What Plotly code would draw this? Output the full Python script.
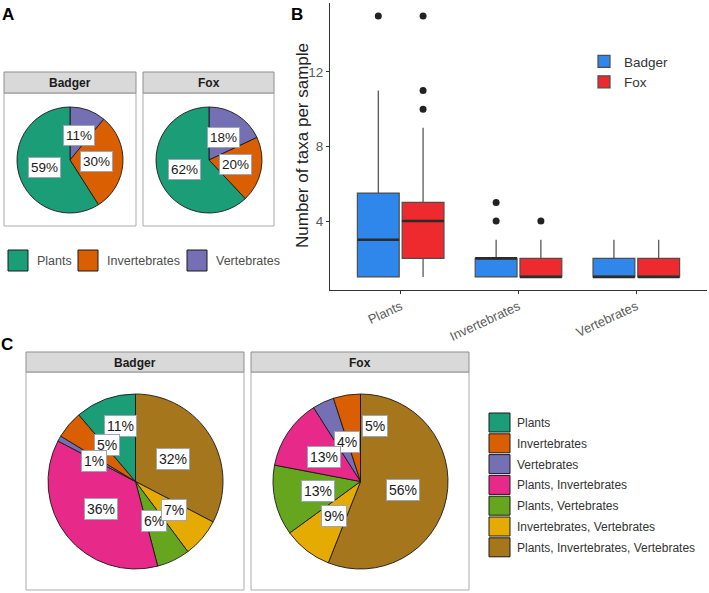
import math
import plotly.graph_objects as go

W, H = 709, 593
FONT = "Liberation Sans, Arial, sans-serif"

# ---------------- data ----------------
groups_A = ["Plants", "Invertebrates", "Vertebrates"]
badger_A = [59, 30, 11]
fox_A = [62, 20, 18]

groups_C = ["Plants", "Invertebrates", "Vertebrates", "Plants, Invertebrates",
            "Plants, Vertebrates", "Invertebrates, Vertebrates",
            "Plants, Invertebrates, Vertebrates"]
badger_C = [11, 5, 1, 36, 6, 7, 32]
fox_C = [0, 5, 4, 13, 13, 9, 56]

box_categories = ["Plants", "Invertebrates", "Vertebrates"]
badger_q1 = [1, 1, 1]
badger_median = [3, 2, 1]
badger_q3 = [5.5, 2, 2]
badger_low = [1, 1, 1]
badger_high = [11, 3, 3]
badger_outliers = [[15], [4, 5], []]
fox_q1 = [2, 1, 1]
fox_median = [4, 1, 1]
fox_q3 = [5, 2, 2]
fox_low = [1, 1, 1]
fox_high = [9, 3, 3]
fox_outliers = [[10, 11, 15], [4], []]
y_ticks = [4, 8, 12]

# ---------------- style ----------------
dark2 = ["#1B9E77", "#D95F02", "#7570B3", "#E7298A", "#66A61E", "#E6AB02", "#A6761D"]
col_badger = "#2F86EB"
col_fox = "#EE2A2E"


def X(x):
    return x / W


def Y(y):
    return 1 - y / H


fig = go.Figure()
shapes = []
annotations = []


def ann(x, y, text, size, color, xanchor="center", **kw):
    annotations.append(dict(x=X(x), y=Y(y), xref="paper", yref="paper", text=text,
                            showarrow=False, xanchor=xanchor, yanchor="middle",
                            font=dict(family=FONT, size=size, color=color), **kw))


def facet_frame(x0, x1, ys0, ys1, yp1, title):
    shapes.append(dict(type="rect", xref="paper", yref="paper", x0=X(x0), x1=X(x1),
                       y0=Y(ys1), y1=Y(yp1), line=dict(color="#ababab", width=1),
                       fillcolor="white", layer="below"))
    shapes.append(dict(type="rect", xref="paper", yref="paper", x0=X(x0), x1=X(x1),
                       y0=Y(ys1), y1=Y(ys0), line=dict(color="#8f8f8f", width=1),
                       fillcolor="#D9D9D9", layer="below"))
    ann((x0 + x1) / 2, (ys0 + ys1) / 2 + 0.5, f"<b>{title}</b>", 12, "#1a1a1a")


def add_pie(labels, values, cx, cy, R, colors, fsize, nudges):
    # ggplot polar pie: first category runs counter-clockwise from 12 o'clock.
    # Plotly drawn clockwise with reversed order gives the same layout.
    fig.add_trace(go.Pie(labels=labels[::-1], values=values[::-1], sort=False,
                         direction="clockwise", rotation=0, textinfo="none",
                         hoverinfo="label+value",
                         marker=dict(colors=colors[::-1], line=dict(color="#1a1a1a", width=0.9)),
                         domain=dict(x=[X(cx - R), X(cx + R)], y=[Y(cy + R), Y(cy - R)]),
                         showlegend=False))
    total = sum(values)
    cum = 0
    for lab, v in zip(labels, values):
        if v > 0:
            d_ang, rr = nudges.get(lab, (0, 0.5))
            theta = math.radians(-(cum + v / 2) / total * 360 + d_ang)
            lx = cx + R * rr * math.sin(theta)
            ly = cy - R * rr * math.cos(theta)
            ann(lx, ly, f"{v}%", fsize, "#1a1a1a", bgcolor="white",
                bordercolor="#9aa6b8", borderwidth=1, borderpad=2)
        cum += v


# ---------------- panel A ----------------
facet_frame(4, 136, 72, 93, 226, "Badger")
facet_frame(143, 274, 72, 93, 226, "Fox")
add_pie(groups_A, badger_A, 70, 160, 53, dark2[:3], 13.5, {})
add_pie(groups_A, fox_A, 209, 160, 53, dark2[:3], 13.5, {})

legA_x = [8, 78, 187]
for i, g in enumerate(groups_A):
    x0 = legA_x[i]
    shapes.append(dict(type="rect", xref="paper", yref="paper", x0=X(x0), x1=X(x0 + 20),
                       y0=Y(271), y1=Y(250), fillcolor=dark2[i],
                       line=dict(color="#1a1a1a", width=1)))
    ann(x0 + 27, 261, g, 12.5, "#4d4d4d", xanchor="left")

# ---------------- panel C ----------------
facet_frame(26, 244, 352, 372, 590, "Badger")
facet_frame(251, 469, 352, 372, 590, "Fox")
add_pie(groups_C, badger_C, 135.5, 481.5, 87.5, dark2, 14,
        {"Plants": (5, 0.66), "Invertebrates": (12, 0.53), "Vertebrates": (-3, 0.53),
         "Invertebrates, Vertebrates": (-4, 0.55)})
add_pie(groups_C, fox_C, 360.5, 481.5, 87.5, dark2, 14,
        {"Invertebrates": (24, 0.66), "Vertebrates": (7, 0.48)})

for i, g in enumerate(groups_C):
    top = 413 + 20.8 * i
    shapes.append(dict(type="rect", xref="paper", yref="paper", x0=X(489), x1=X(510),
                       y0=Y(top + 19), y1=Y(top), fillcolor=dark2[i],
                       line=dict(color="#1a1a1a", width=1)))
    ann(515, top + 10, g, 12, "#333333", xanchor="left")

# ---------------- panel B ----------------
off, bw = 0.19, 0.355
for name, col, q1, med, q3, lo, hi, outs, sgn in [
        ("Badger", col_badger, badger_q1, badger_median, badger_q3, badger_low, badger_high, badger_outliers, -1),
        ("Fox", col_fox, fox_q1, fox_median, fox_q3, fox_low, fox_high, fox_outliers, 1)]:
    pos = [i + 1 + sgn * off for i in range(len(box_categories))]
    fig.add_trace(go.Box(name=name, x=pos, q1=q1, median=med, q3=q3, lowerfence=lo,
                         upperfence=hi, width=bw, whiskerwidth=0, fillcolor=col,
                         line=dict(color="#4d4d4d", width=1.2), boxpoints=False,
                         xaxis="x", yaxis="y", legendgroup=name, showlegend=True))
    for p, m in zip(pos, med):
        fig.add_trace(go.Scatter(x=[p - bw / 2, p + bw / 2], y=[m, m], mode="lines",
                                 line=dict(color="#2b2b2b", width=2.6), showlegend=False,
                                 hoverinfo="skip", xaxis="x", yaxis="y"))
    ox, oy = [], []
    for p, o in zip(pos, outs):
        for v in o:
            ox.append(p)
            oy.append(v)
    fig.add_trace(go.Scatter(x=ox, y=oy, mode="markers", showlegend=False,
                             marker=dict(color="#222222", size=7), xaxis="x", yaxis="y"))

# y-axis title of panel B
ann(302, 146, "Number of taxa per sample", 17, "#222222", textangle=-90)

# panel letters
for t, x, y in [("A", 8, 14), ("B", 297, 14), ("C", 7, 344)]:
    ann(x, y, f"<b>{t}</b>", 17, "black")

fig.update_layout(
    width=W, height=H, margin=dict(l=0, r=0, t=0, b=0),
    paper_bgcolor="white", plot_bgcolor="white",
    font=dict(family=FONT),
    shapes=shapes, annotations=annotations,
    xaxis=dict(domain=[X(330), X(707)], range=[0.4, 3.6], tickvals=[1, 2, 3],
               ticktext=box_categories, tickangle=-25, showline=True, linecolor="#333333",
               linewidth=1.2, ticks="outside", ticklen=3, tickcolor="#333333",
               showgrid=False, zeroline=False,
               tickfont=dict(family=FONT, size=13, color="#5a5a5a"), anchor="y"),
    yaxis=dict(domain=[Y(290), Y(3)], range=[0.3, 15.7], tickvals=y_ticks, showline=True,
               linecolor="#333333", linewidth=1.2, ticks="outside", ticklen=3,
               tickcolor="#333333", showgrid=False, zeroline=False,
               tickfont=dict(family=FONT, size=13.5, color="#5a5a5a"), anchor="x"),
    legend=dict(x=X(584), y=Y(46), xanchor="left", yanchor="top", bgcolor="rgba(0,0,0,0)",
                font=dict(family=FONT, size=13.5, color="#333333"), tracegroupgap=0),
)

fig.write_html("out.html", config={"displayModeBar": False},
               post_script="document.body.style.margin='0';document.body.style.overflow='hidden';")
